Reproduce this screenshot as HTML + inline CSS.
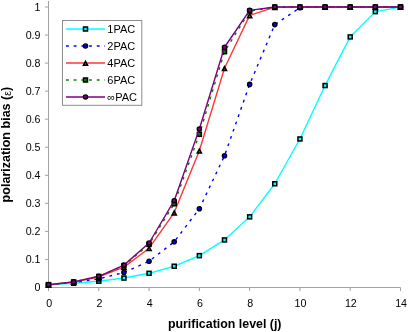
<!DOCTYPE html>
<html><head><meta charset="utf-8"><title>chart</title>
<style>html,body{margin:0;padding:0;background:#fff;overflow:hidden}svg{display:block;will-change:transform}text{font-family:"Liberation Sans",sans-serif;fill:#000}.t{font-size:10.67px}.l{font-size:11px}.b{font-size:12.4px;font-weight:bold}</style></head><body>
<svg width="408" height="332" viewBox="0 0 408 332">
<rect width="408" height="332" fill="#fff"/>
<g stroke="#a2a2a2" stroke-width="1" fill="none">
<path d="M48.5 1 V287.5 H400.5"/>
<path d="M45 287.5 H48.5"/>
<path d="M45 259.45 H48.5"/>
<path d="M45 231.4 H48.5"/>
<path d="M45 203.35 H48.5"/>
<path d="M45 175.3 H48.5"/>
<path d="M45 147.25 H48.5"/>
<path d="M45 119.2 H48.5"/>
<path d="M45 91.15 H48.5"/>
<path d="M45 63.1 H48.5"/>
<path d="M45 35.05 H48.5"/>
<path d="M45 7 H48.5"/>
<path d="M48.5 287.5 V291"/>
<path d="M98.79 287.5 V291"/>
<path d="M149.07 287.5 V291"/>
<path d="M199.36 287.5 V291"/>
<path d="M249.64 287.5 V291"/>
<path d="M299.93 287.5 V291"/>
<path d="M350.21 287.5 V291"/>
<path d="M400.5 287.5 V291"/>
</g>
<text class="t" x="40.5" y="291" text-anchor="end">0</text>
<text class="t" x="40.5" y="262.95" text-anchor="end">0.1</text>
<text class="t" x="40.5" y="234.9" text-anchor="end">0.2</text>
<text class="t" x="40.5" y="206.85" text-anchor="end">0.3</text>
<text class="t" x="40.5" y="178.8" text-anchor="end">0.4</text>
<text class="t" x="40.5" y="150.75" text-anchor="end">0.5</text>
<text class="t" x="40.5" y="122.7" text-anchor="end">0.6</text>
<text class="t" x="40.5" y="94.65" text-anchor="end">0.7</text>
<text class="t" x="40.5" y="66.6" text-anchor="end">0.8</text>
<text class="t" x="40.5" y="38.55" text-anchor="end">0.9</text>
<text class="t" x="40.5" y="10.5" text-anchor="end">1</text>
<text class="t" x="49.1" y="307.2" text-anchor="middle">0</text>
<text class="t" x="99.39" y="307.2" text-anchor="middle">2</text>
<text class="t" x="149.67" y="307.2" text-anchor="middle">4</text>
<text class="t" x="199.96" y="307.2" text-anchor="middle">6</text>
<text class="t" x="250.24" y="307.2" text-anchor="middle">8</text>
<text class="t" x="300.53" y="307.2" text-anchor="middle">10</text>
<text class="t" x="350.81" y="307.2" text-anchor="middle">12</text>
<text class="t" x="401.1" y="307.2" text-anchor="middle">14</text>
<text class="b" x="224.7" y="328.4" text-anchor="middle">purification level (j)</text>
<text class="b" style="font-size:12.55px" transform="translate(10.4 144.6) rotate(-90)" text-anchor="middle">polarization bias (<tspan style="font-weight:normal;font-size:10.6px" dy="0.8">ε</tspan><tspan dy="-0.8">)</tspan></text>
<polyline points="48.5,284.69 73.64,283.29 98.79,281.19 123.93,278.04 149.07,273.31 174.21,266.23 199.36,255.66 224.5,239.94 249.64,216.85 274.79,183.76 299.93,138.99 325.07,85.55 350.21,36.91 375.36,11.62 400.5,7.11" fill="none" stroke="#00ffff" stroke-width="1.4" stroke-linejoin="round"/>
<rect x="46.5" y="282.69" width="4" height="4" fill="#00ffff" stroke="#000" stroke-width="1.5"/>
<rect x="71.64" y="281.29" width="4" height="4" fill="#00ffff" stroke="#000" stroke-width="1.5"/>
<rect x="96.79" y="279.19" width="4" height="4" fill="#00ffff" stroke="#000" stroke-width="1.5"/>
<rect x="121.93" y="276.04" width="4" height="4" fill="#00ffff" stroke="#000" stroke-width="1.5"/>
<rect x="147.07" y="271.31" width="4" height="4" fill="#00ffff" stroke="#000" stroke-width="1.5"/>
<rect x="172.21" y="264.23" width="4" height="4" fill="#00ffff" stroke="#000" stroke-width="1.5"/>
<rect x="197.36" y="253.66" width="4" height="4" fill="#00ffff" stroke="#000" stroke-width="1.5"/>
<rect x="222.5" y="237.94" width="4" height="4" fill="#00ffff" stroke="#000" stroke-width="1.5"/>
<rect x="247.64" y="214.85" width="4" height="4" fill="#00ffff" stroke="#000" stroke-width="1.5"/>
<rect x="272.79" y="181.76" width="4" height="4" fill="#00ffff" stroke="#000" stroke-width="1.5"/>
<rect x="297.93" y="136.99" width="4" height="4" fill="#00ffff" stroke="#000" stroke-width="1.5"/>
<rect x="323.07" y="83.55" width="4" height="4" fill="#00ffff" stroke="#000" stroke-width="1.5"/>
<rect x="348.21" y="34.91" width="4" height="4" fill="#00ffff" stroke="#000" stroke-width="1.5"/>
<rect x="373.36" y="9.62" width="4" height="4" fill="#00ffff" stroke="#000" stroke-width="1.5"/>
<rect x="398.5" y="5.11" width="4" height="4" fill="#00ffff" stroke="#000" stroke-width="1.5"/>
<polyline points="48.5,284.69 73.64,282.59 98.79,278.91 123.93,272.48 149.07,261.26 174.21,241.8 199.36,208.73 224.5,155.74 249.64,84.39 274.79,24.6 299.93,7.65 325.07,7 350.21,7 375.36,7 400.5,7" fill="none" stroke="#0000ff" stroke-width="1.4" stroke-linejoin="round" stroke-dasharray="2.8 4.9"/>
<circle cx="48.5" cy="284.69" r="2.1" fill="#0000ff" stroke="#000" stroke-width="1.4"/>
<circle cx="73.64" cy="282.59" r="2.1" fill="#0000ff" stroke="#000" stroke-width="1.4"/>
<circle cx="98.79" cy="278.91" r="2.1" fill="#0000ff" stroke="#000" stroke-width="1.4"/>
<circle cx="123.93" cy="272.48" r="2.1" fill="#0000ff" stroke="#000" stroke-width="1.4"/>
<circle cx="149.07" cy="261.26" r="2.1" fill="#0000ff" stroke="#000" stroke-width="1.4"/>
<circle cx="174.21" cy="241.8" r="2.1" fill="#0000ff" stroke="#000" stroke-width="1.4"/>
<circle cx="199.36" cy="208.73" r="2.1" fill="#0000ff" stroke="#000" stroke-width="1.4"/>
<circle cx="224.5" cy="155.74" r="2.1" fill="#0000ff" stroke="#000" stroke-width="1.4"/>
<circle cx="249.64" cy="84.39" r="2.1" fill="#0000ff" stroke="#000" stroke-width="1.4"/>
<circle cx="274.79" cy="24.6" r="2.1" fill="#0000ff" stroke="#000" stroke-width="1.4"/>
<circle cx="299.93" cy="7.65" r="2.1" fill="#0000ff" stroke="#000" stroke-width="1.4"/>
<circle cx="325.07" cy="7" r="2.1" fill="#0000ff" stroke="#000" stroke-width="1.4"/>
<circle cx="350.21" cy="7" r="2.1" fill="#0000ff" stroke="#000" stroke-width="1.4"/>
<circle cx="375.36" cy="7" r="2.1" fill="#0000ff" stroke="#000" stroke-width="1.4"/>
<circle cx="400.5" cy="7" r="2.1" fill="#0000ff" stroke="#000" stroke-width="1.4"/>
<polyline points="48.5,284.69 73.64,282.07 98.79,276.97 123.93,267.13 149.07,248.21 174.21,212.61 199.36,150.71 224.5,68.26 249.64,15.38 274.79,7.13 299.93,7 325.07,7 350.21,7 375.36,7 400.5,7" fill="none" stroke="#ff3636" stroke-width="1.4" stroke-linejoin="round"/>
<path d="M48.5 283 L50.6 287 L46.4 287 Z" fill="#ff2020" stroke="#000" stroke-width="1.5" stroke-linejoin="miter"/>
<path d="M73.64 280.37 L75.74 284.37 L71.54 284.37 Z" fill="#ff2020" stroke="#000" stroke-width="1.5" stroke-linejoin="miter"/>
<path d="M98.79 275.27 L100.89 279.27 L96.69 279.27 Z" fill="#ff2020" stroke="#000" stroke-width="1.5" stroke-linejoin="miter"/>
<path d="M123.93 265.43 L126.03 269.43 L121.83 269.43 Z" fill="#ff2020" stroke="#000" stroke-width="1.5" stroke-linejoin="miter"/>
<path d="M149.07 246.51 L151.17 250.51 L146.97 250.51 Z" fill="#ff2020" stroke="#000" stroke-width="1.5" stroke-linejoin="miter"/>
<path d="M174.21 210.91 L176.31 214.91 L172.11 214.91 Z" fill="#ff2020" stroke="#000" stroke-width="1.5" stroke-linejoin="miter"/>
<path d="M199.36 149.01 L201.46 153.01 L197.26 153.01 Z" fill="#ff2020" stroke="#000" stroke-width="1.5" stroke-linejoin="miter"/>
<path d="M224.5 66.56 L226.6 70.56 L222.4 70.56 Z" fill="#ff2020" stroke="#000" stroke-width="1.5" stroke-linejoin="miter"/>
<path d="M249.64 13.68 L251.74 17.68 L247.54 17.68 Z" fill="#ff2020" stroke="#000" stroke-width="1.5" stroke-linejoin="miter"/>
<path d="M274.79 5.43 L276.89 9.43 L272.69 9.43 Z" fill="#ff2020" stroke="#000" stroke-width="1.5" stroke-linejoin="miter"/>
<path d="M299.93 5.3 L302.03 9.3 L297.83 9.3 Z" fill="#ff2020" stroke="#000" stroke-width="1.5" stroke-linejoin="miter"/>
<path d="M325.07 5.3 L327.17 9.3 L322.97 9.3 Z" fill="#ff2020" stroke="#000" stroke-width="1.5" stroke-linejoin="miter"/>
<path d="M350.21 5.3 L352.31 9.3 L348.11 9.3 Z" fill="#ff2020" stroke="#000" stroke-width="1.5" stroke-linejoin="miter"/>
<path d="M375.36 5.3 L377.46 9.3 L373.26 9.3 Z" fill="#ff2020" stroke="#000" stroke-width="1.5" stroke-linejoin="miter"/>
<path d="M400.5 5.3 L402.6 9.3 L398.4 9.3 Z" fill="#ff2020" stroke="#000" stroke-width="1.5" stroke-linejoin="miter"/>
<polyline points="48.5,284.69 73.64,281.93 98.79,276.46 123.93,265.62 149.07,244.34 174.21,203.73 199.36,134.3 224.5,51.66 249.64,11.17 274.79,7.03 299.93,7 325.07,7 350.21,7 375.36,7 400.5,7" fill="none" stroke="#008000" stroke-width="1.4" stroke-linejoin="round" stroke-dasharray="2.8 4.9"/>
<rect x="46.5" y="282.69" width="4" height="4" fill="#008000" stroke="#000" stroke-width="1.5"/>
<rect x="71.64" y="279.93" width="4" height="4" fill="#008000" stroke="#000" stroke-width="1.5"/>
<rect x="96.79" y="274.46" width="4" height="4" fill="#008000" stroke="#000" stroke-width="1.5"/>
<rect x="121.93" y="263.62" width="4" height="4" fill="#008000" stroke="#000" stroke-width="1.5"/>
<rect x="147.07" y="242.34" width="4" height="4" fill="#008000" stroke="#000" stroke-width="1.5"/>
<rect x="172.21" y="201.73" width="4" height="4" fill="#008000" stroke="#000" stroke-width="1.5"/>
<rect x="197.36" y="132.3" width="4" height="4" fill="#008000" stroke="#000" stroke-width="1.5"/>
<rect x="222.5" y="49.66" width="4" height="4" fill="#008000" stroke="#000" stroke-width="1.5"/>
<rect x="247.64" y="9.17" width="4" height="4" fill="#008000" stroke="#000" stroke-width="1.5"/>
<rect x="272.79" y="5.03" width="4" height="4" fill="#008000" stroke="#000" stroke-width="1.5"/>
<rect x="297.93" y="5" width="4" height="4" fill="#008000" stroke="#000" stroke-width="1.5"/>
<rect x="323.07" y="5" width="4" height="4" fill="#008000" stroke="#000" stroke-width="1.5"/>
<rect x="348.21" y="5" width="4" height="4" fill="#008000" stroke="#000" stroke-width="1.5"/>
<rect x="373.36" y="5" width="4" height="4" fill="#008000" stroke="#000" stroke-width="1.5"/>
<rect x="398.5" y="5" width="4" height="4" fill="#008000" stroke="#000" stroke-width="1.5"/>
<polyline points="48.5,284.69 73.64,281.89 98.79,276.29 123.93,265.11 149.07,243 174.21,200.68 199.36,129.04 224.5,47.25 249.64,10.33 274.79,7.02 299.93,7 325.07,7 350.21,7 375.36,7 400.5,7" fill="none" stroke="#800080" stroke-width="1.4" stroke-linejoin="round"/>
<circle cx="48.5" cy="284.69" r="2.1" fill="#800080" stroke="#000" stroke-width="1.4"/>
<circle cx="73.64" cy="281.89" r="2.1" fill="#800080" stroke="#000" stroke-width="1.4"/>
<circle cx="98.79" cy="276.29" r="2.1" fill="#800080" stroke="#000" stroke-width="1.4"/>
<circle cx="123.93" cy="265.11" r="2.1" fill="#800080" stroke="#000" stroke-width="1.4"/>
<circle cx="149.07" cy="243" r="2.1" fill="#800080" stroke="#000" stroke-width="1.4"/>
<circle cx="174.21" cy="200.68" r="2.1" fill="#800080" stroke="#000" stroke-width="1.4"/>
<circle cx="199.36" cy="129.04" r="2.1" fill="#800080" stroke="#000" stroke-width="1.4"/>
<circle cx="224.5" cy="47.25" r="2.1" fill="#800080" stroke="#000" stroke-width="1.4"/>
<circle cx="249.64" cy="10.33" r="2.1" fill="#800080" stroke="#000" stroke-width="1.4"/>
<circle cx="274.79" cy="7.02" r="2.1" fill="#800080" stroke="#000" stroke-width="1.4"/>
<circle cx="299.93" cy="7" r="2.1" fill="#800080" stroke="#000" stroke-width="1.4"/>
<circle cx="325.07" cy="7" r="2.1" fill="#800080" stroke="#000" stroke-width="1.4"/>
<circle cx="350.21" cy="7" r="2.1" fill="#800080" stroke="#000" stroke-width="1.4"/>
<circle cx="375.36" cy="7" r="2.1" fill="#800080" stroke="#000" stroke-width="1.4"/>
<circle cx="400.5" cy="7" r="2.1" fill="#800080" stroke="#000" stroke-width="1.4"/>
<rect x="62.5" y="20.5" width="79.3" height="84.8" fill="#fff" stroke="#8c8c8c" stroke-width="1"/>
<path d="M66 28.9 H105" stroke="#00ffff" stroke-width="1.5" fill="none"/>
<rect x="83.5" y="27" width="4" height="4" fill="#00ffff" stroke="#000" stroke-width="1.5"/>
<text class="l" x="107.3" y="32.9">1PAC</text>
<path d="M66 45.9 H105" stroke="#0000ff" stroke-width="1.5" fill="none" stroke-dasharray="2.8 4.9"/>
<circle cx="85.5" cy="46" r="2.1" fill="#0000ff" stroke="#000" stroke-width="1.4"/>
<text class="l" x="107.3" y="49.9">2PAC</text>
<path d="M66 62.9 H105" stroke="#ff3636" stroke-width="1.5" fill="none"/>
<path d="M85.5 61.3 L87.6 65.3 L83.4 65.3 Z" fill="#ff2020" stroke="#000" stroke-width="1.5" stroke-linejoin="miter"/>
<text class="l" x="107.3" y="66.9">4PAC</text>
<path d="M66 79.9 H105" stroke="#008000" stroke-width="1.5" fill="none" stroke-dasharray="2.8 4.9"/>
<rect x="83.5" y="78" width="4" height="4" fill="#008000" stroke="#000" stroke-width="1.5"/>
<text class="l" x="107.3" y="83.9">6PAC</text>
<path d="M66 96.9 H105" stroke="#800080" stroke-width="1.5" fill="none"/>
<circle cx="85.5" cy="97" r="2.1" fill="#800080" stroke="#000" stroke-width="1.4"/>
<text class="l" x="107.3" y="100.9">∞PAC</text>
</svg></body></html>
